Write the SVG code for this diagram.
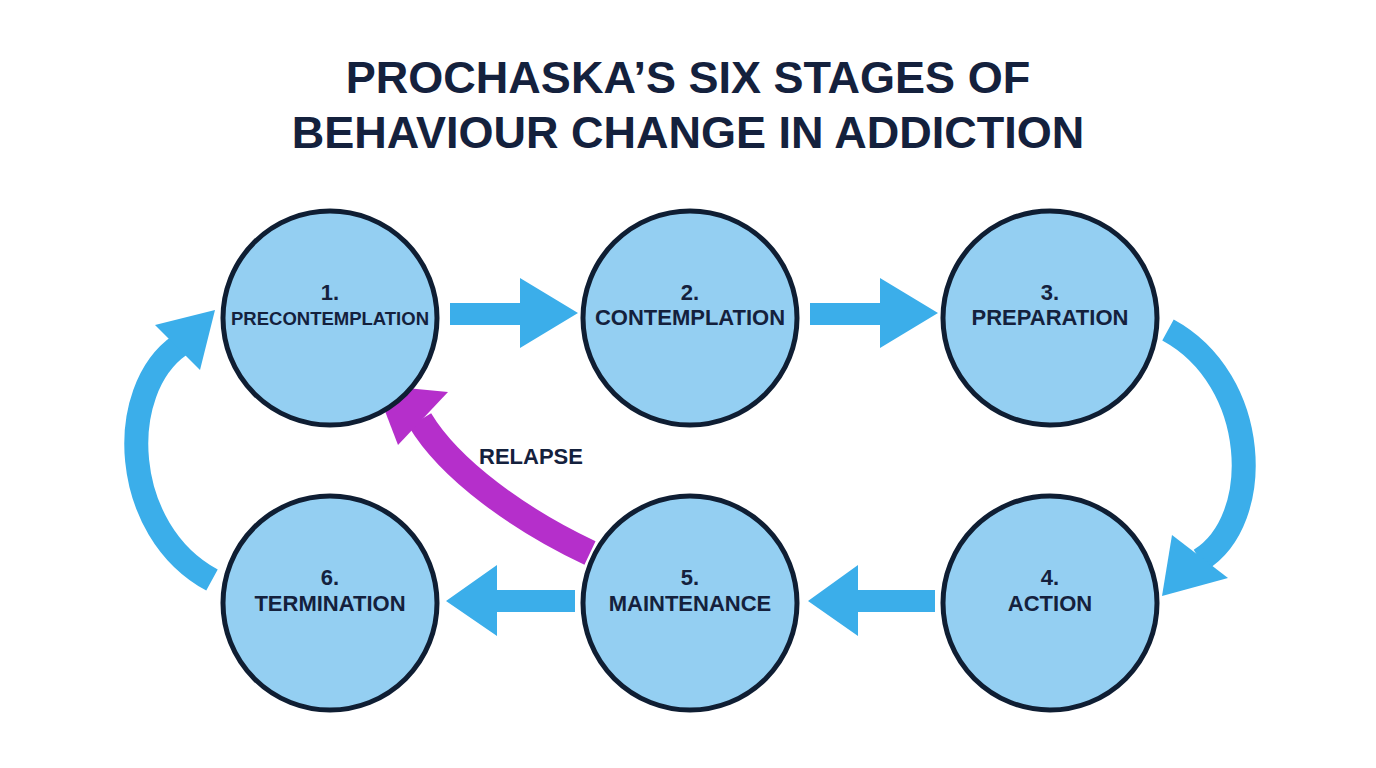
<svg xmlns="http://www.w3.org/2000/svg" width="1376" height="768" viewBox="0 0 1376 768">
<style>
.n{fill:#94cff2;stroke:#0f1e33;stroke-width:5}
.t{font-family:"Liberation Sans",Arial,sans-serif;font-weight:bold;fill:#14213d;text-anchor:middle}
.l{font-size:22px}
.a{fill:#3baeea}
.c{fill:none;stroke:#3baeea;stroke-width:24}
</style>
<rect width="1376" height="768" fill="#ffffff"/>
<text class="t" x="688" y="93" font-size="45">PROCHASKA’S SIX STAGES OF</text>
<text class="t" x="688" y="148" font-size="45">BEHAVIOUR CHANGE IN ADDICTION</text>
<g id="connectors">
<polygon class="a" points="450,303 520,303 520,278 578,313 520,348 520,325 450,325"/>
<polygon class="a" points="810,303 880,303 880,278 938,313 880,348 880,325 810,325"/>
<polygon class="a" points="935,590 858,590 858,565 808,601 858,636 858,612 935,612"/>
<polygon class="a" points="575,590 497,590 497,565 446,601 497,636 497,612 575,612"/>
<path class="c" d="M1168,330 C1260,380 1265,520 1200,560"/>
<polygon class="a" points="1172,535 1228,578 1162,596"/>
<path class="c" d="M212,580 C120,530 115,390 180,345"/>
<polygon class="a" points="155,325 215,310 200,370"/>
<path fill="none" stroke="#b52fcb" stroke-width="26" d="M590,553 C520,520 450,470 420,420"/>
<polygon fill="#b52fcb" points="375,385 448,392 398,445"/>
</g>
<text class="t l" x="531" y="464">RELAPSE</text>
<g id="n1"><circle class="n" cx="330" cy="318" r="107"/><text class="t l" x="330" y="300">1.</text><text class="t" x="330" y="325" font-size="18.5">PRECONTEMPLATION</text></g>
<g id="n2"><circle class="n" cx="690" cy="318" r="107"/><text class="t l" x="690" y="300">2.</text><text class="t l" x="690" y="325">CONTEMPLATION</text></g>
<g id="n3"><circle class="n" cx="1050" cy="318" r="107"/><text class="t l" x="1050" y="300">3.</text><text class="t l" x="1050" y="325">PREPARATION</text></g>
<g id="n4"><circle class="n" cx="1050" cy="603" r="107"/><text class="t l" x="1050" y="585">4.</text><text class="t l" x="1050" y="611">ACTION</text></g>
<g id="n5"><circle class="n" cx="690" cy="603" r="107"/><text class="t l" x="690" y="585">5.</text><text class="t l" x="690" y="611">MAINTENANCE</text></g>
<g id="n6"><circle class="n" cx="330" cy="603" r="107"/><text class="t l" x="330" y="585">6.</text><text class="t l" x="330" y="611">TERMINATION</text></g>
</svg>
